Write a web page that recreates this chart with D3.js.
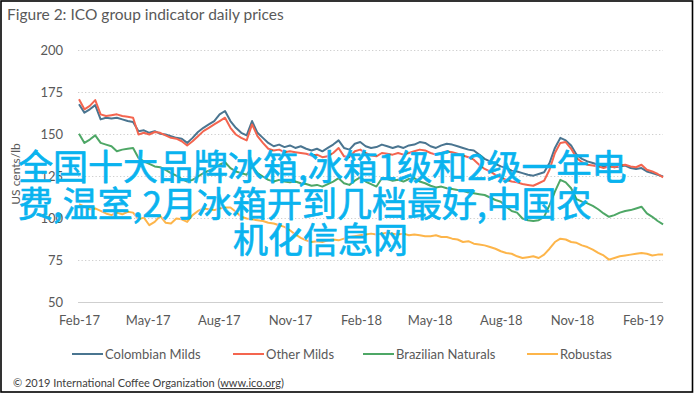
<!DOCTYPE html>
<html><head><meta charset="utf-8">
<script src="https://cdn.jsdelivr.net/npm/d3@7"></script>
<style>
html,body{margin:0;padding:0;background:#fff;}
svg{display:block;}
</style></head>
<body>
<svg id="chart" width="695" height="394"></svg>
<script>
// ---------- DATA ----------
const title = "Figure 2: ICO group indicator daily prices";
const yTitle = "US cents/lb";
const footer = "© 2019 International Coffee Organization (";
const footerLink = "www.ico.org";
const seriesNames = ["Colombian Milds", "Other Milds", "Brazilian Naturals", "Robustas"];
const seriesColors = ["#4a7590", "#f4654f", "#4ea766", "#fdb54a"];
const startDate = "2017-02-01";   // weekly observations from this date
const yTicks = [50, 75, 100, 125, 150, 175, 200];
const xTickDates = ["2017-02-01","2017-05-01","2017-08-01","2017-11-01","2018-02-01","2018-05-01","2018-08-01","2018-11-01","2019-02-01"];
const xTickLabels = ["Feb-17","May-17","Aug-17","Nov-17","Feb-18","May-18","Aug-18","Nov-18","Feb-19"];

const colombianMilds = [168,163,165,167.5,159,160,159.5,160,159,158,157.5,152,152.5,151,152,150.5,150,149,148,147.5,
 145,148,151.5,154,156,158,162,164,158,154,151,149.5,158,151,148,145,143,144,142.5,143.5,
 142,143,141.5,140.5,141.5,140,142,144,146.5,142,141,144.5,145.5,143,142,142.5,144,143,142,143,
 142,143.5,144,145.5,145,143,142,143.5,144.5,144,143,142,141,140.5,138,135.5,134,132.5,131,130,
 128.5,128,127,126,125.5,126.5,127.5,133,142,148,146.5,143.5,138,135.5,134,133,132,131,131.5,130.5,
 131,131.5,130,129.5,130,128,127,126,125];
const otherMilds = [171,165,167,170.5,162,161,161.5,162,161,160.5,160,150,151,150,151.5,151,149.5,148,147.5,146,
 143.5,146,149,152,154,156,158,160,154,150,148,146.5,156,149,145,141.5,140.5,141,139.5,140,
 139.5,139,138.5,137.5,138,136.5,137,139,142,137,136.5,140,141,139,137.5,137,139,138.5,138,139,
 138,139,140,141,140.5,139,138,139,140,139.5,138.5,137.5,136.5,135,132,129.5,128,126,124.5,123,
 122,121.5,120.5,120,119.5,121,122.5,129,139,145,145.5,141.5,136,133.5,132,131.5,131,130,131,130.5,
 131.5,132,131,130.5,132,129,128,126.5,124.5];
const brazilianNaturals = [150.5,145,147,149.5,145,144,143,140,141,141.5,142,136,134,132.5,131,130.5,129,127,125.5,123.5,
 122,123,125,127,128.5,130,132,133.5,130,128,127,126,131,127,125,123,122,123,122,121.5,
 122,121,120.5,119.5,120,119,120.5,122,124,121,120,122.5,124.5,122,120.5,119,124,123.5,122.5,123,
 122,123.5,124,122,121,119.5,118.5,119,118,117.5,117,116.5,115.5,115,114.5,114,112.5,111,110,107,
 104.5,103.5,100,99,98.5,99,101,108,116,123,121.5,118,111.5,110,109,107.5,105.5,103,101,102,
 103.5,104.5,105,106,107,103,101,98.5,96.5];
const robustas = [108.5,107,105.5,106,104.5,103,102,103.5,102.5,104,103.5,99.5,100.5,96,98,101.5,97.5,97,100,99.5,
 98,102,104.5,106,105.5,105,106,106.5,106.5,104,101,100,99.5,99,98.5,97.5,97,96,95,93,
 90.5,88.5,87,86,86.5,86,87,87.5,87,88,89,89.5,90,90.5,91,90.5,91,91.5,91,90.5,
 91,90,90.5,90,89.5,89.5,90,89,89,88,87.5,86,86.5,85,84.5,84,83,82,80.5,79.5,
 79,77.5,76.5,77,77.5,76.5,78.5,82,86,88,87.5,86,85.5,84,83,81.5,79.5,78,75.5,76.5,
 77.5,78,78.5,79,79.5,79,78,78.5,78.5];
const overlayLines = ["全国十大品牌冰箱,冰箱1级和2级一年电", "费,温室,2月冰箱开到几档最好,中国农", "机化信息网"];

// ---------- CHART ----------
const svg = d3.select("#chart");
const font = "Lato, 'Open Sans', sans-serif";
const textCol = "#595959";

const parse = d3.utcParse("%Y-%m-%d");
const t0 = parse(startDate);
const allSeries = [colombianMilds, otherMilds, brazilianNaturals, robustas];

const x = d3.scaleUtc().domain([parse(xTickDates[0]), parse(xTickDates[xTickDates.length-1])]).range([79, 643]);
const y = d3.scaleLinear().domain([50, 200]).range([302.5, 50.5]);

// frame
svg.append("rect").attr("x", 1).attr("y", 1).attr("width", 691.5).attr("height", 391)
  .attr("fill", "#fff").attr("stroke", "#000").attr("stroke-width", 1.6);

// title
svg.append("text").attr("x", 7).attr("y", 20).text(title)
  .attr("font-family", font).attr("font-size", 15.5).attr("fill", textCol);

// grid
const gx0 = 78, gx1 = 663;
svg.append("g").selectAll("line").data(yTicks).join("line")
  .attr("x1", gx0).attr("x2", gx1)
  .attr("y1", d => y(d)).attr("y2", d => y(d))
  .attr("stroke", "#cfcfcf").attr("stroke-width", 1.2)
  .attr("stroke-dasharray", d => d === 50 ? null : "1.3,2.2");

// y axis labels
const yAxis = d3.axisLeft(y).tickValues(yTicks).tickSize(0).tickPadding(0);
const gy = svg.append("g").attr("transform", "translate(63,0)").call(yAxis);
gy.select(".domain").remove();
gy.selectAll("text").attr("font-family", font).attr("font-size", 13).attr("fill", textCol);

// y title
svg.append("text").attr("transform", "translate(20,174) rotate(-90)")
  .attr("text-anchor", "middle").text(yTitle)
  .attr("font-family", font).attr("font-size", 12).attr("fill", textCol);

// x axis labels
const xAxis = d3.axisBottom(x).tickValues(xTickDates.map(parse))
  .tickFormat((d, i) => xTickLabels[i]).tickSize(0).tickPadding(0);
const gxA = svg.append("g").attr("transform", "translate(0,316)").call(xAxis);
gxA.select(".domain").remove();
gxA.selectAll("text").attr("font-family", font).attr("font-size", 13).attr("fill", textCol);

// lines
const line = d3.line().x((d, i) => x(d3.utcDay.offset(t0, 7 * i))).y(d => y(d));
svg.append("g").selectAll("path").data(allSeries).join("path")
  .attr("d", d => line(d)).attr("fill", "none")
  .attr("stroke", (d, i) => seriesColors[i]).attr("stroke-width", 2)
  .attr("stroke-linejoin", "round");

// legend
const legX = [72, 233, 363, 527];
const lg = svg.append("g").selectAll("g").data(seriesNames).join("g")
  .attr("transform", (d, i) => `translate(${legX[i]},354)`);
lg.append("line").attr("x1", 0).attr("x2", 31).attr("y1", 0).attr("y2", 0)
  .attr("stroke", (d, i) => seriesColors[i]).attr("stroke-width", 2);
lg.append("text").attr("x", 33).attr("y", 0).attr("dy", "0.35em").text(d => d)
  .attr("font-family", font).attr("font-size", 13).attr("fill", textCol);

// footer
const ft = svg.append("text").attr("x", 13).attr("y", 387)
  .attr("font-family", font).attr("font-size", 11).attr("fill", "#404040");
ft.append("tspan").text(footer);
ft.append("tspan").text(footerLink).attr("text-decoration", "underline");
ft.append("tspan").text(")");

// overlay text
const ov = svg.append("g").attr("font-family", "'Noto Sans CJK SC', sans-serif")
  .attr("font-size", 35).attr("fill", "#09b3ef")
  .attr("stroke", "#09b3ef").attr("stroke-width", 0.7).attr("stroke-linejoin", "round");
const ovX = [18, 18, 233];
ov.selectAll("text").data(overlayLines).join("text")
  .attr("x", (d, i) => ovX[i]).attr("y", (d, i) => 180 + i * 36.5).text(d => d);
</script>
</body></html>
